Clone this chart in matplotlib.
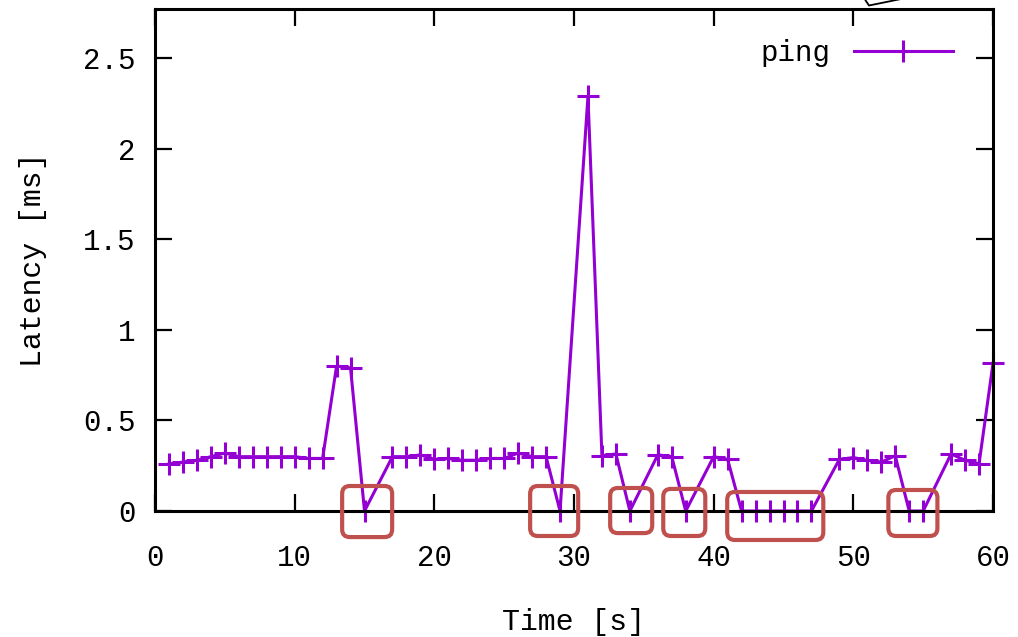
import matplotlib
matplotlib.use("Agg")
import matplotlib.pyplot as plt
from matplotlib.patches import FancyBboxPatch
from matplotlib.lines import Line2D

# ---- data ----
time_s = [1, 2, 3, 4, 5, 6, 7, 8, 9, 10, 11, 12, 13, 14, 15,
          17, 18, 19, 20, 21, 22, 23, 24, 25, 26, 27, 28, 29,
          31, 32, 33, 34, 36, 37, 38, 40, 41,
          42, 43, 44, 45, 46, 47,
          49, 50, 51, 52, 53, 54, 55, 57, 58, 59, 60]
latency_ms = [0.26, 0.27, 0.28, 0.30, 0.32, 0.30, 0.30, 0.30, 0.30, 0.30, 0.29, 0.29, 0.80, 0.79, 0.0,
              0.30, 0.30, 0.31, 0.285, 0.29, 0.28, 0.28, 0.29, 0.29, 0.32, 0.30, 0.30, 0.0,
              2.29, 0.305, 0.315, 0.0, 0.31, 0.30, 0.0, 0.30, 0.285,
              0.0, 0.0, 0.0, 0.0, 0.0, 0.0,
              0.285, 0.295, 0.28, 0.27, 0.305, 0.0, 0.0, 0.315, 0.28, 0.26, 0.815]
series_label = "ping"
x_ticks = [0, 10, 20, 30, 40, 50, 60]
y_ticks = [0, 0.5, 1, 1.5, 2, 2.5]
y_tick_labels = ["0", "0.5", "1", "1.5", "2", "2.5"]
x_label = "Time [s]"
y_label = "Latency [ms]"
# highlighted (lost) regions: (t_start, t_end, y_low, y_high)
highlight_boxes = [(13.40, 16.98, -0.144, 0.138),
                   (26.86, 30.30, -0.138, 0.138),
                   (32.59, 35.60, -0.122, 0.127),
                   (36.39, 39.40, -0.138, 0.122),
                   (40.97, 47.85, -0.160, 0.105),
                   (52.51, 56.02, -0.138, 0.116)]

LINE_COLOR = "#9400D3"
BOX_COLOR = "#C0504D"
FONT = "Liberation Mono"

W, H, DPI = 1018, 637, 100
fig = plt.figure(figsize=(W / DPI, H / DPI), dpi=DPI)
ax = fig.add_axes([155 / W, 1 - 511 / H, (993 - 155) / W, (511 - 9.3) / H])

ax.plot(time_s, latency_ms, color=LINE_COLOR, lw=2.2, marker="+", ms=16,
        mew=2.2, clip_on=False, zorder=3, label=series_label)

ax.set_xlim(0, 60)
ax.set_ylim(0, 2.77)
ax.set_xticks(x_ticks)
ax.set_xticklabels([str(t) for t in x_ticks], fontfamily=FONT, fontsize=21)
ax.set_yticks(y_ticks)
ax.set_yticklabels(y_tick_labels, fontfamily=FONT, fontsize=21)
ax.tick_params(direction="in", length=12, width=1.6, top=True, right=True)
ax.tick_params(axis="x", pad=24)
ax.tick_params(axis="y", pad=14)
for s in ax.spines.values():
    s.set_linewidth(2.2)
    s.set_zorder(4)

ax.set_xlabel(x_label, fontfamily=FONT, fontsize=21.5, labelpad=26)
ax.set_ylabel(y_label, fontfamily=FONT, fontsize=21.5, labelpad=26)

leg = ax.legend(loc="upper right", frameon=False, markerfirst=False,
                prop={"family": FONT, "size": 21}, handlelength=3.4,
                bbox_to_anchor=(0.973, 0.975), borderaxespad=0.2,
                handletextpad=0.8)

# aspect for round corners in data coords
fig.canvas.draw()
px_per_x = ax.transData.transform((1, 0))[0] - ax.transData.transform((0, 0))[0]
px_per_y = ax.transData.transform((0, 1))[1] - ax.transData.transform((0, 0))[1]
aspect = px_per_x / px_per_y
for (x0, x1, y0, y1) in highlight_boxes:
    r = 0.55
    p = FancyBboxPatch((x0 + r, y0 + r * aspect), (x1 - x0) - 2 * r, (y1 - y0) - 2 * r * aspect,
                       boxstyle=f"round,pad={r},rounding_size={r}",
                       mutation_aspect=aspect, fill=False, ec=BOX_COLOR, lw=3,
                       clip_on=False, zorder=5)
    ax.add_patch(p)

# partial shape cut by the top edge
fig.add_artist(Line2D([864 / W, 869 / W, 906 / W],
                      [1 + 2 / H, 1 - 5.5 / H, 1 + 2 / H],
                      transform=fig.transFigure, color="black", lw=1.3))

fig.savefig("out.png", dpi=DPI)
